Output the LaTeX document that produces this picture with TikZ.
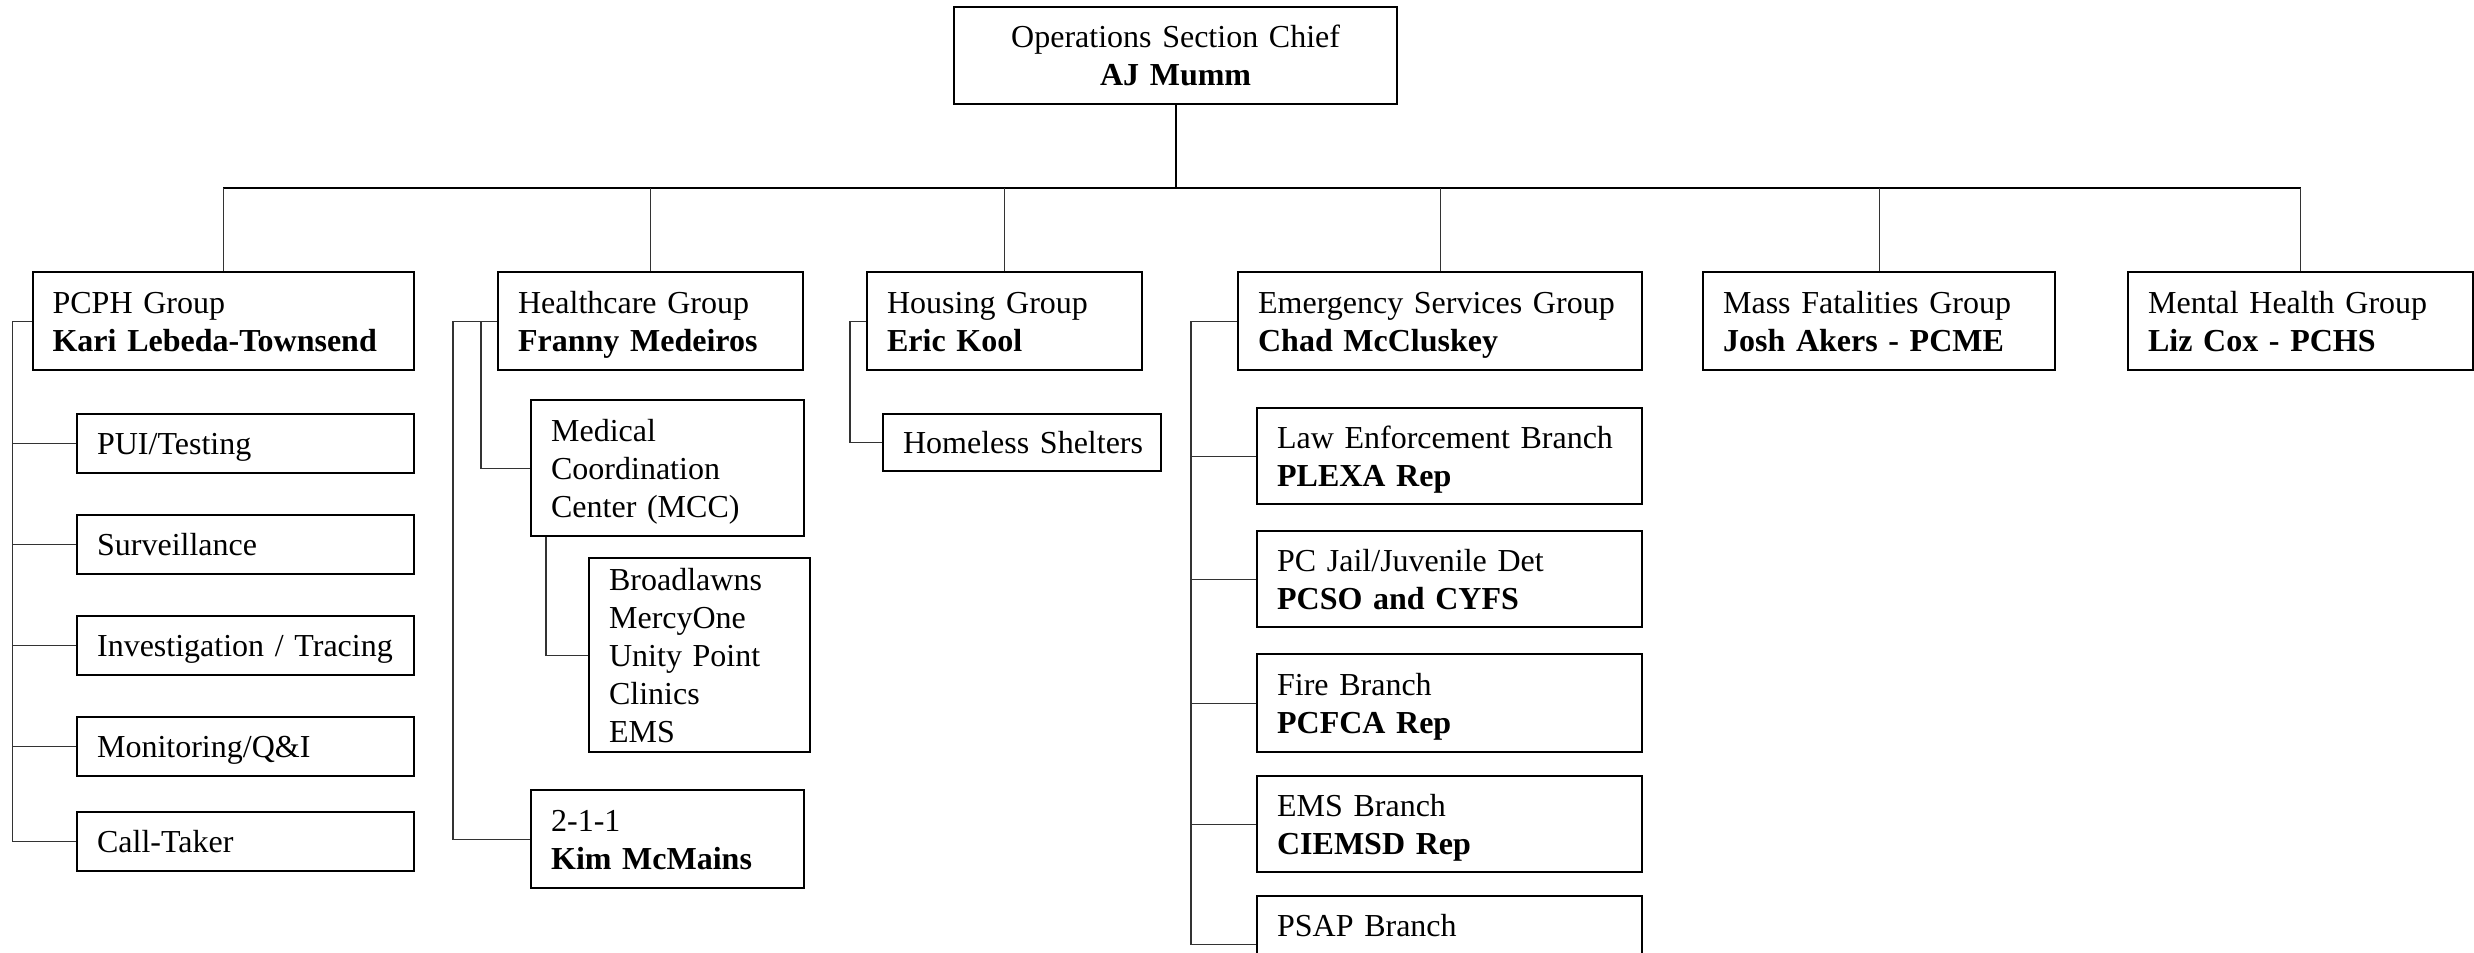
\documentclass[tikz,border=0pt]{standalone}
\usepackage{fontspec}
\setmainfont{Liberation Serif}
\newcommand\boxstrut{\rule[-3.5pt]{0pt}{18pt}}
\begin{document}
\begin{tikzpicture}[x=0.5pt,y=-0.5pt,
  box/.style={draw, line width=1.1pt, anchor=north west, inner xsep=10pt, inner ysep=0pt,
    align=left, font=\fontsize{16pt}{19pt}\selectfont,
    execute at begin node=\boxstrut, execute at end node=\boxstrut},
  conn/.style={draw=black!80, line width=0.6pt},
  trunk/.style={draw=black, line width=0.9pt}]
\useasboundingbox (0,0) rectangle (2474,953);
% top
\node[box, align=center, minimum width=221.5pt, text width=201.5pt, minimum height=48.5pt] (top) at (953,6) {Operations Section Chief\\\textbf{AJ Mumm}};
% groups
\node[box, minimum width=190.75pt, text width=170.75pt, minimum height=49pt] (pcph) at (31.5,271) {PCPH Group\\\textbf{Kari Lebeda-Townsend}};
\node[box, minimum width=152.25pt, text width=132.25pt, minimum height=49pt] (hc) at (497,271) {Healthcare Group\\\textbf{Franny Medeiros}};
\node[box, minimum width=137.5pt, text width=117.5pt, minimum height=49pt] (hou) at (866,271) {Housing Group\\\textbf{Eric Kool}};
\node[box, minimum width=202pt, text width=182pt, minimum height=49pt] (esg) at (1237,271) {\mbox{Emergency Services Group}\\\textbf{Chad McCluskey}};
\node[box, minimum width=176pt, text width=156pt, minimum height=49pt] (mf) at (1702,271) {Mass Fatalities Group\\\textbf{Josh Akers - PCME}};
\node[box, minimum width=172.5pt, text width=152.5pt, minimum height=49pt] (mh) at (2127,271) {Mental Health Group\\\textbf{Liz Cox - PCHS}};
% PCPH subs
\node[box, minimum width=168.5pt, text width=148.5pt, minimum height=29.5pt] (pui) at (76,413) {PUI/Testing};
\node[box, minimum width=168.5pt, text width=148.5pt, minimum height=29.5pt] (surv) at (76,514) {Surveillance};
\node[box, minimum width=168.5pt, text width=148.5pt, minimum height=29.5pt] (inv) at (76,615) {\mbox{Investigation / Tracing}};
\node[box, minimum width=168.5pt, text width=148.5pt, minimum height=29.5pt] (mon) at (76,716) {Monitoring/Q\&I};
\node[box, minimum width=168.5pt, text width=148.5pt, minimum height=29.5pt] (call) at (76,811) {Call-Taker};
% Healthcare subs
\node[box, minimum width=136.5pt, text width=116.5pt, minimum height=68pt] (mcc) at (530,399) {Medical\\Coordination\\Center (MCC)};
\node[box, minimum width=110.5pt, text width=90.5pt, minimum height=97pt] (hosp) at (588,557) {Broadlawns\\MercyOne\\Unity Point\\Clinics\\EMS};
\node[box, minimum width=136.5pt, text width=116.5pt, minimum height=49pt] (k211) at (530,789) {2-1-1\\\textbf{Kim McMains}};
% Housing sub
\node[box, minimum width=139pt, text width=119pt, minimum height=28.5pt] (shel) at (882,413) {\mbox{Homeless Shelters}};
% Emergency subs
\node[box, minimum width=192.5pt, text width=172.5pt, minimum height=48pt] (law) at (1256,407) {\mbox{Law Enforcement Branch}\\\textbf{PLEXA Rep}};
\node[box, minimum width=192.5pt, text width=172.5pt, minimum height=48pt] (jail) at (1256,530) {PC Jail/Juvenile Det\\\textbf{PCSO and CYFS}};
\node[box, minimum width=192.5pt, text width=172.5pt, minimum height=49pt] (fire) at (1256,653) {Fire Branch\\\textbf{PCFCA Rep}};
\node[box, minimum width=192.5pt, text width=172.5pt, minimum height=48pt] (emsb) at (1256,775) {EMS Branch\\\textbf{CIEMSD Rep}};
\node[box, minimum width=192.5pt, text width=172.5pt, minimum height=48pt] (psap) at (1256,895) {PSAP Branch\\\mbox{}};
% coordinates
\coordinate (bus) at (0,188);
\coordinate (ps) at (12.6,0);
\coordinate (h1) at (453,0);
\coordinate (h2) at (481,0);
\coordinate (m1) at (546,0);
\coordinate (ho) at (850,0);
\coordinate (e1) at (1191,0);
% trunk and bus
\draw[trunk] (top.south) -- (top.south |- bus);
\draw[trunk] (pcph.north |- bus) -- (mh.north |- bus);
\foreach \g in {pcph,hc,hou,esg,mf,mh} \draw[conn] (\g.north) -- (\g.north |- bus);
% PCPH
\draw[conn] (pcph.west) -| (ps |- call.west) -- (call.west);
\foreach \n in {pui,surv,inv,mon} \draw[conn] (\n.west) -- (\n.west -| ps);
% Healthcare
\draw[conn] (hc.west) -| (h1 |- k211.west) -- (k211.west);
\draw[conn] (hc.west -| h2) |- (mcc.west);
\draw[conn] (mcc.south -| m1) |- (hosp.west);
% Housing
\draw[conn] (hou.west) -| (ho |- shel.west) -- (shel.west);
% Emergency
\draw[conn] (esg.west) -| (e1 |- psap.west) -- (psap.west);
\foreach \n in {law,jail,fire,emsb} \draw[conn] (\n.west) -- (\n.west -| e1);
\end{tikzpicture}
\end{document}
